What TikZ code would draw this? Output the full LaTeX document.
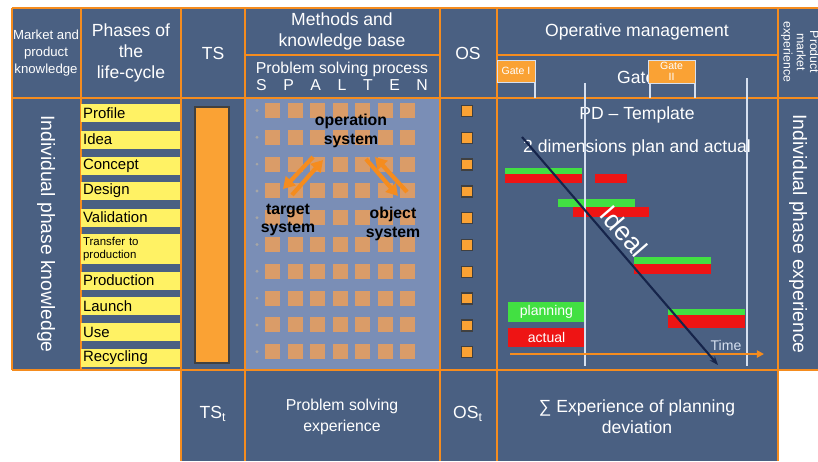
\documentclass[tikz,border=0pt]{standalone}
\usepackage{fontspec}
\setmainfont{Liberation Sans}
\usetikzlibrary{arrows.meta}

\definecolor{panelblue}{RGB}{74,96,130}
\definecolor{gridblue}{RGB}{122,142,182}
\definecolor{lineorange}{RGB}{245,140,30}
\definecolor{cellorange}{RGB}{218,156,104}
\definecolor{baryellow}{RGB}{255,242,100}
\definecolor{tsorange}{RGB}{250,162,52}
\definecolor{bargreen}{RGB}{66,224,66}
\definecolor{barred}{RGB}{238,20,20}
\definecolor{idealnavy}{RGB}{22,36,74}
\definecolor{gateline}{RGB}{214,224,240}

\begin{document}
\begin{tikzpicture}[x=0.02cm,y=-0.02cm,
    grid line/.style={draw=lineorange,line width=1.6pt},
    head/.style={text=white,align=center,font=\fontsize{10}{12}\selectfont},
    small head/.style={text=white,align=center,font=\fontsize{7.5}{9.5}\selectfont},
    side text/.style={text=white,rotate=-90,font=\fontsize{11}{13}\selectfont},
    phase/.style={fill=baryellow,anchor=west,minimum height=0.36cm,text width=1.9cm,inner sep=1pt,align=left,font=\fontsize{8.5}{9}\selectfont},
    cell/.style={fill=cellorange,minimum size=0.3cm,inner sep=0pt},
    os box/.style={draw=black!75,fill=tsorange,line width=0.8pt,minimum size=0.22cm,inner sep=0pt},
    system/.style={align=center,font=\bfseries\fontsize{9}{10.5}\selectfont},
    flow/.style={draw=lineorange,line width=2.4pt,-{Triangle[length=6.5pt,width=7.5pt]}},
    gate box/.style={fill=tsorange,draw=gateline,line width=0.4pt,text=white,align=center,inner sep=0pt,font=\fontsize{6}{6.5}\selectfont},
    legend/.style={text=white,minimum width=1.54cm,inner sep=0pt,font=\fontsize{8}{9}\selectfont}]
    \useasboundingbox (0,0) rectangle (818,461);

    % background panels
    \fill[panelblue] (12,8) rectangle (818,370);
    \fill[panelblue] (181,370) rectangle (778,461);
    \fill[gridblue] (245,98) rectangle (440,370);

    % problem solving grid
    \foreach \j in {0,...,9} {
        \fill[black!35] (257,110.5+26.8*\j) circle (1.6);
        \foreach \i in {0,...,6}
            \node[cell] (c-\i-\j) at (272.5+22.5*\i,110.5+26.8*\j) {};
    }

    % orange frame
    \draw[grid line] (12,8) -- (818,8);
    \draw[grid line] (12,98) -- (818,98);
    \draw[grid line] (12,370) -- (818,370);
    \draw[grid line] (245,55) -- (440,55);
    \draw[grid line] (497,55) -- (778,55);
    \draw[grid line] (12,8) -- (12,370);
    \draw[grid line] (81,8) -- (81,370);
    \foreach \x in {181,245,440,497,778}
        \draw[grid line] (\x,8) -- (\x,461);

    % headers
    \node[small head] (market) at (46,53) {Market and\\product\\knowledge};
    \node[head] (phases) at (131,53) {Phases of\\the\\life-cycle};
    \node[head] (ts) at (213,53) {TS};
    \node[head] (methods) at (342,31) {Methods and\\knowledge base};
    \node[head,font=\fontsize{9}{9.8}\selectfont] (process) at (342,76) {Problem solving process\\S\hspace{1.05em}P\hspace{1.05em}A\hspace{1.05em}L\hspace{1.05em}T\hspace{1.05em}E\hspace{1.05em}N};
    \node[head] (os) at (468,53) {OS};
    \node[head] (operative) at (637,32) {Operative management};
    \node[head,anchor=west] (gates) at (611,77) {Gates};
    \node[head,font=\fontsize{7}{7.5}\selectfont,rotate=-90] (market exp) at (800,52) {Product\\market\\experience};

    % gates
    \draw[gateline,line width=0.8pt] (535,82) -- (535,98);
    \draw[gateline,line width=0.8pt] (650,83) -- (650,98);
    \draw[gateline,line width=0.8pt] (695,83) -- (695,98);
    \node[gate box,minimum width=0.76cm,minimum height=0.44cm] (gate one) at (516,71) {Gate I};
    \node[gate box,minimum width=0.94cm,minimum height=0.46cm] (gate two) at (671.5,71.5) {Gate\\II};

    % side texts
    \node[side text] (phase knowledge) at (46,234) {Individual phase knowledge};
    \node[side text] (phase experience) at (798,234) {Individual phase experience};

    % phases of the life-cycle
    \node[phase] (profile) at (81,113) {Profile};
    \node[phase] (idea) at (81,139.5) {Idea};
    \node[phase] (concept) at (81,165.5) {Concept};
    \node[phase] (design) at (81,191) {Design};
    \node[phase] (validation) at (81,217.5) {Validation};
    \node[phase,minimum height=0.6cm,font=\fontsize{6.5}{7}\selectfont] (transfer) at (81,249) {Transfer to\\production};
    \node[phase] (production) at (81,280.5) {Production};
    \node[phase] (launch) at (81,306) {Launch};
    \node[phase] (use) at (81,332) {Use};
    \node[phase] (recycling) at (81,358) {Recycling};

    % target system bar and OS boxes
    \node[draw=black!75,fill=tsorange,line width=0.8pt,minimum width=0.68cm,minimum height=5.12cm,inner sep=0pt] (ts bar) at (212,235) {};
    \foreach \j in {0,...,9}
        \node[os box] (os-\j) at (467,111+26.8*\j) {};

    % systems
    \node[system] (operation) at (351,131) {operation\\system};
    \node[system] (target) at (288,220) {target\\system};
    \node[system] (object) at (393,224) {object\\system};
    \coordinate (op-a) at (313,157);
    \coordinate (ta-a) at (283,189);
    \coordinate (ta-b) at (292,195);
    \coordinate (op-b) at (323,160);
    \coordinate (op-c) at (366,159);
    \coordinate (ob-c) at (398,196);
    \coordinate (ob-d) at (407,192);
    \coordinate (op-d) at (375,157);
    \draw[flow] (op-a) -- (ta-a);
    \draw[flow] (ta-b) -- (op-b);
    \draw[flow] (op-c) -- (ob-c);
    \draw[flow] (ob-d) -- (op-d);

    % PD template
    \node[head] (template) at (637,115) {PD -- Template};
    \node[head] (dimensions) at (637,148) {2 dimensions plan and actual};
    \fill[bargreen] (505,168) rectangle (582,174);
    \fill[barred] (505,174) rectangle (582,183);
    \fill[barred] (595,174) rectangle (627,183);
    \fill[bargreen] (558,199) rectangle (635,207);
    \fill[barred] (573,207) rectangle (649,217);
    \fill[bargreen] (634,257) rectangle (711,264);
    \fill[barred] (634,264) rectangle (711,274);
    \fill[bargreen] (668,309) rectangle (745,315);
    \fill[barred] (668,315) rectangle (745,328);
    \node[legend,fill=bargreen,minimum height=0.4cm] (planning) at (546.5,312) {planning};
    \node[legend,fill=barred,minimum height=0.38cm] (actual) at (546.5,337.5) {actual};

    \draw[gateline,line width=1pt] (585,83) -- (585,366);
    \draw[gateline,line width=1pt] (747,78) -- (747,366);

    \coordinate (time-start) at (510,354);
    \coordinate (time-end) at (764,354);
    \draw[lineorange,line width=1pt,-{Triangle[length=4pt,width=4pt]}] (time-start) -- (time-end);
    \node[text=gateline,font=\fontsize{8}{9}\selectfont] (time) at (726,345) {Time};

    \coordinate (ideal-start) at (522,137);
    \coordinate (ideal-end) at (718,365);
    \draw[idealnavy,line width=1.2pt,-{Stealth[length=5pt]}] (ideal-start) -- (ideal-end);
    \node[text=white,rotate=-49,font=\fontsize{15}{16}\selectfont] (ideal) at (624,231) {Ideal};

    % bottom row
    \node[head] (ts t) at (213,414) {TS\textsubscript{t}};
    \node[head,font=\fontsize{9}{12}\selectfont] (ps experience) at (342,417) {Problem solving\\experience};
    \node[head] (os t) at (468,414) {OS\textsubscript{t}};
    \node[head] (deviation) at (637,417) {∑ Experience of planning\\deviation};
\end{tikzpicture}
\end{document}
